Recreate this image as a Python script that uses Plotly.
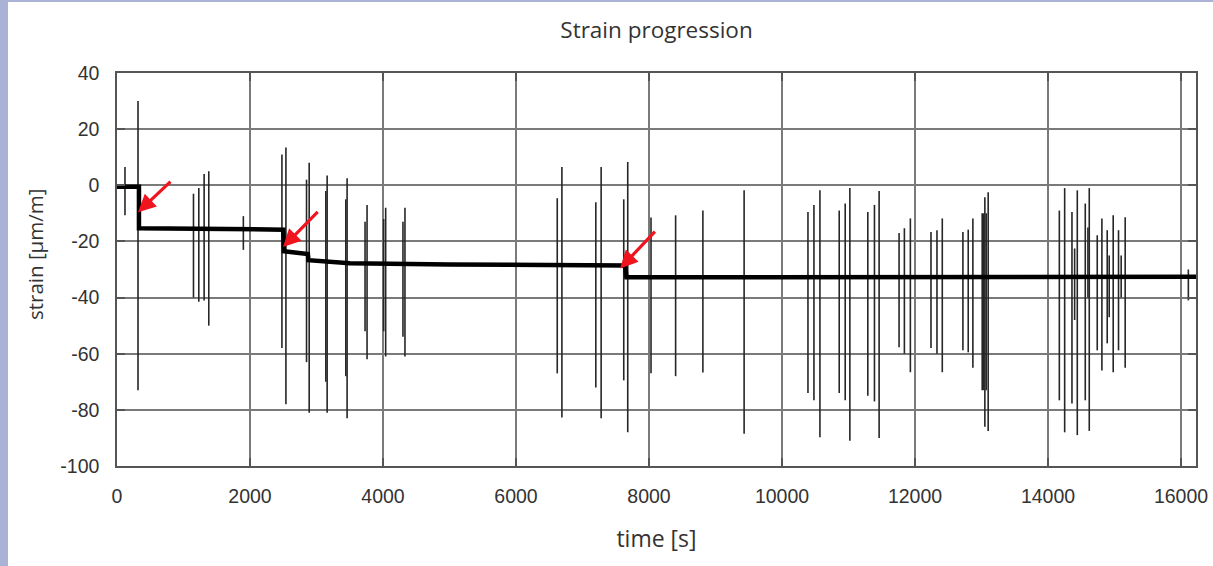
import plotly.graph_objects as go

# ---- data ----
# baseline (drift) level of the strain signal: time [s], strain [µm/m]
base_t = [0, 330, 330, 1150, 2500, 2510, 2870, 2880, 3500, 5000, 7640, 7660, 10000, 16225]
base_v = [-0.5, -0.5, -15.3, -15.4, -15.8, -23.5, -24.5, -26.7, -27.8, -28.2, -28.6, -32.8, -32.8, -32.6]

# vertical spikes: time, max, min
spike_t = [120, 316, 1150, 1230, 1310, 1380, 1900,
           2480, 2540, 2850, 2890, 3140, 3160, 3440, 3460, 3730, 3760, 4010, 4040, 4300, 4330,
           6620, 6690, 7200, 7280, 7620, 7680, 8030, 8400, 8810, 9430,
           10390, 10480, 10570, 10860, 10950, 11020, 11290, 11390, 11460,
           11760, 11840, 11930, 12240, 12330, 12410, 12720, 12800, 12870,
           13010, 13030, 13050, 13070, 13100,
           14170, 14250, 14360, 14400, 14440, 14560, 14600, 14620, 14740, 14810,
           14890, 14920, 14980, 15060, 15100, 15160, 16110]
spike_top = [6.5, 30, -3, -1, 4, 5, -11,
             11, 13.5, 2, 8, -2, 3.5, -5, 2.5, -13, -7, -12, -8, -13, -8,
             -4.6, 6.5, -6, 6.5, -5, 8.3, -11.5, -10.7, -9, -1.8,
             -9.5, -7, -1.8, -9, -6.5, -1, -9.5, -7, -2,
             -17, -15.3, -11.8, -16.6, -16, -11.8, -16.6, -15.8, -11.8,
             -10, -10, -4.3, -10, -2.5,
             -9, -1, -9.5, -22.5, -1.8, -6.5, -15, -1, -17.8, -11.8,
             -16, -25, -10.7, -16, -25, -11.4, -30]
spike_bot = [-10.7, -73, -40, -41.5, -41, -50, -23,
             -58, -78, -63, -81, -70, -81, -68, -83, -52, -62, -52, -61, -54, -61,
             -67, -82.7, -72, -83, -69.5, -88, -67, -68, -66.7, -88.5,
             -74, -76.6, -89.8, -74, -76.6, -91, -75, -77, -90,
             -57.7, -60, -66.6, -58, -60, -66.6, -58.8, -59.5, -65,
             -73, -73, -86, -73, -87.5,
             -76.6, -88, -77.7, -48, -89, -76.6, -40, -87.5, -58.8, -66,
             -56.3, -47, -66.6, -58.8, -40, -65, -41]

# red arrows: (tail time, tail strain) -> (tip time, tip strain)
arrow_tail_t = [827, 3040, 8110]
arrow_tail_v = [1.8, -8.9, -16]
arrow_tip_t = [316, 2497, 7565]
arrow_tip_v = [-9.6, -22, -29.6]

x_ticks = [0, 2000, 4000, 6000, 8000, 10000, 12000, 14000, 16000]
x_tick_text = ["0", "2000", "4000", "6000", "8000", "10000", "12000", "14000", "16000"]
y_ticks = [-100, -80, -60, -40, -20, 0, 20, 40]
y_tick_text = ["-100", "-80", "-60", "-40", "-20", "0", "20", "40"]

# ---- build spike polyline ----
sx, sy = [], []
for t, hi, lo in zip(spike_t, spike_top, spike_bot):
    sx += [t, t, None]
    sy += [hi, lo, None]

fig = go.Figure()
fig.add_trace(go.Scatter(x=sx, y=sy, mode="lines",
                         line=dict(color="#262626", width=1.6),
                         hoverinfo="skip", showlegend=False))
fig.add_trace(go.Scatter(x=base_t, y=base_v, mode="lines",
                         line=dict(color="black", width=4.5),
                         showlegend=False))

for tt, tv, ht, hv in zip(arrow_tail_t, arrow_tail_v, arrow_tip_t, arrow_tip_v):
    fig.add_annotation(x=ht, y=hv, ax=tt, ay=tv, xref="x", yref="y",
                       axref="x", ayref="y", text="", showarrow=True,
                       arrowhead=2, arrowsize=1.1, arrowwidth=3.2,
                       arrowcolor="#f0141e")

# y-axis title (placed as rotated annotation to match reference position)
fig.add_annotation(text="strain [µm/m]", xref="paper", yref="paper",
                   x=(35 - 117) / 1079, y=(466 - 255) / 393, showarrow=False,
                   textangle=-90, xanchor="center", yanchor="middle",
                   font=dict(family="Open Sans", size=20.5, color="#333333"))

# decorative page border (left & top strips)
fig.add_shape(type="rect", xref="paper", yref="paper",
              x0=-117/1079, x1=-109/1079, y0=-100/393, y1=466/393,
              fillcolor="#aab2d6", line_width=0, layer="below")
fig.add_shape(type="rect", xref="paper", yref="paper",
              x0=-117/1079, x1=1096/1079, y0=464/393, y1=466/393,
              fillcolor="#aab2d6", line_width=0, layer="below")

axis_common = dict(showgrid=True, gridcolor="#7a7a7a", gridwidth=1.5,
                   showline=True, linecolor="#555555", linewidth=1.5, mirror="ticks",
                   ticks="inside", ticklen=8, tickcolor="#555555", tickwidth=1.5,
                   zeroline=False, automargin=False,
                   tickfont=dict(family="Liberation Sans, Arial", size=19.5, color="#333333"))

fig.update_layout(
    width=1213, height=566,
    margin=dict(l=117, r=17, t=73, b=100, autoexpand=False),
    paper_bgcolor="white", plot_bgcolor="white",
    title=dict(text="Strain progression", x=(117 + 539.5) / 1213, xanchor="center",
               y=1 - 30 / 566, yanchor="middle", automargin=False,
               font=dict(family="Open Sans", size=22.5, color="#333333")),
    xaxis=dict(range=[0, 16225], tickvals=x_ticks, ticktext=x_tick_text, ticklabelstandoff=12,
               title=dict(text="time [s]", standoff=25,
                          font=dict(family="Open Sans", size=23, color="#333333")),
               **axis_common),
    yaxis=dict(range=[-100, 40], tickvals=y_ticks, ticktext=y_tick_text, ticklabelstandoff=12,
               **axis_common),
)

fig.write_html("out.html", config={"displayModeBar": False},
               post_script="document.body.style.margin='0';document.body.style.overflow='hidden';")
